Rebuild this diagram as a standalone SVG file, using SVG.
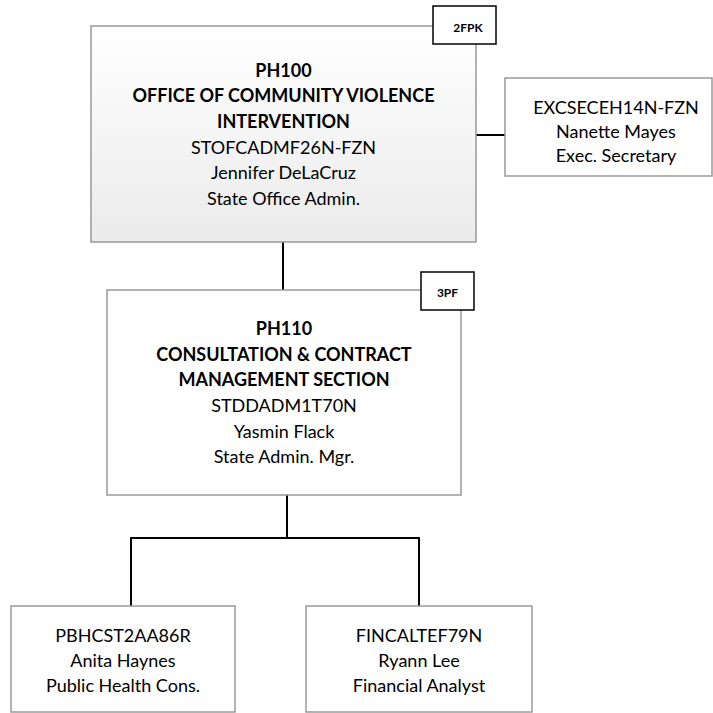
<svg xmlns="http://www.w3.org/2000/svg" width="713" height="713" viewBox="0 0 713 713">
<defs>
<linearGradient id="g1" x1="0" y1="0" x2="0" y2="1">
<stop offset="0" stop-color="#ffffff"/>
<stop offset="1" stop-color="#ebebeb"/>
</linearGradient>
</defs>
<style>
.box{fill:#fff;stroke:#999;stroke-width:1.5}
.tag{fill:#fff;stroke:#000;stroke-width:1.5}
.c{fill:none;stroke:#000;stroke-width:2}
text{font-family:Lato,"Liberation Sans",sans-serif;font-size:18px;fill:#000;text-anchor:middle}
.b{font-weight:bold;font-size:18px}
.t{font-weight:bold;font-size:12px}
</style>
<rect width="713" height="713" fill="#fff"/>
<g id="connectors">
<line class="c" x1="283" y1="242" x2="283" y2="290"/>
<line class="c" x1="476" y1="135" x2="505" y2="135"/>
<polyline class="c" points="287,495 287,538"/>
<polyline class="c" points="131,606 131,538 419,538 419,606"/>
</g>
<g id="ph100">
<rect x="91" y="26" width="385" height="216" fill="url(#g1)" stroke="#999" stroke-width="1.5"/>
<text class="b" x="283.5" y="77">PH100</text>
<text class="b" x="283.5" y="102">OFFICE OF COMMUNITY VIOLENCE</text>
<text class="b" x="283.5" y="128">INTERVENTION</text>
<text x="283.5" y="154">STOFCADMF26N-FZN</text>
<text x="283.5" y="179">Jennifer DeLaCruz</text>
<text x="283.5" y="205">State Office Admin.</text>
</g>
<g id="tag2fpk">
<rect class="tag" x="433" y="6" width="63" height="38"/>
<text class="t" x="468" y="32">2FPK</text>
</g>
<g id="exec">
<rect class="box" x="505" y="78" width="207" height="98"/>
<text x="616" y="114">EXCSECEH14N-FZN</text>
<text x="616" y="138">Nanette Mayes</text>
<text x="616" y="162">Exec. Secretary</text>
</g>
<g id="ph110">
<rect class="box" x="107" y="290" width="354" height="205"/>
<text class="b" x="284" y="335">PH110</text>
<text class="b" x="284" y="361">CONSULTATION &amp; CONTRACT</text>
<text class="b" x="284" y="386">MANAGEMENT SECTION</text>
<text x="284" y="412">STDDADM1T70N</text>
<text x="284" y="438">Yasmin Flack</text>
<text x="284" y="463">State Admin. Mgr.</text>
</g>
<g id="tag3pf">
<rect class="tag" x="421" y="272" width="53" height="38"/>
<text class="t" x="447.5" y="297">3PF</text>
</g>
<g id="pbhcst">
<rect class="box" x="11" y="606" width="224" height="106"/>
<text x="123" y="642">PBHCST2AA86R</text>
<text x="123" y="667">Anita Haynes</text>
<text x="123" y="692">Public Health Cons.</text>
</g>
<g id="fincal">
<rect class="box" x="306" y="606" width="226" height="106"/>
<text x="419" y="642">FINCALTEF79N</text>
<text x="419" y="667">Ryann Lee</text>
<text x="419" y="692">Financial Analyst</text>
</g>
</svg>
